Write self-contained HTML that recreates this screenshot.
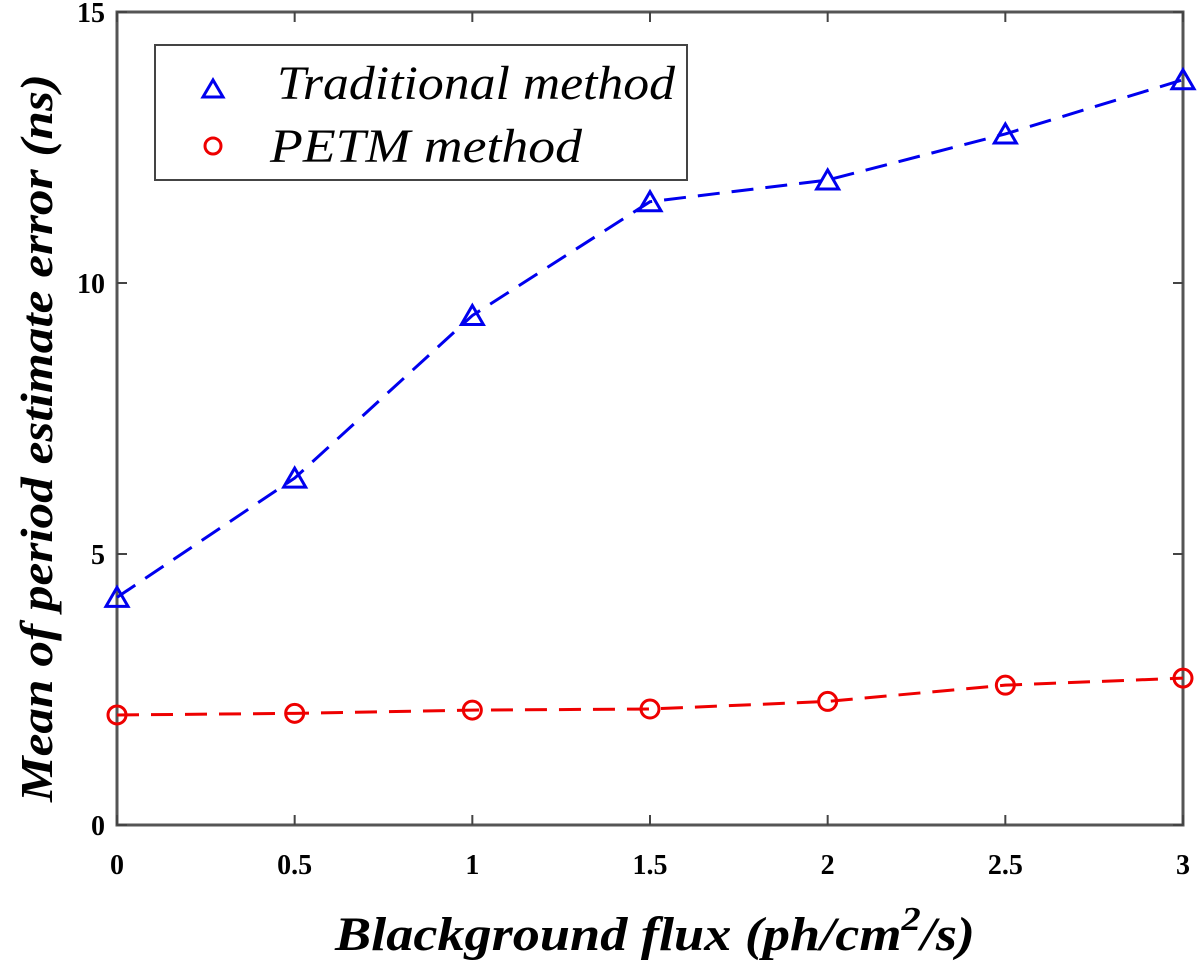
<!DOCTYPE html>
<html><head><meta charset="utf-8"><style>
html,body{margin:0;padding:0;background:#fff;}
svg{display:block;}
text{font-family:"Liberation Serif",serif;}
</style></head><body>
<svg id="chart" width="1200" height="963" viewBox="0 0 1200 963" xmlns="http://www.w3.org/2000/svg">
<rect x="117" y="12" width="1066" height="813" fill="#fff" stroke="#555" stroke-width="3"/>
<g id="ticks"></g>
<g id="series"></g>
<text x="335" y="950" font-size="48" font-weight="bold" font-style="italic" textLength="640" lengthAdjust="spacingAndGlyphs">Blackground flux (ph/cm<tspan dy="-20" font-size="34">2</tspan><tspan dy="20">/s)</tspan></text>
<text transform="translate(52,802) rotate(-90)" font-size="46" font-weight="bold" font-style="italic" textLength="728" lengthAdjust="spacingAndGlyphs">Mean of period estimate error (ns)</text>
<g>
<rect x="155" y="45" width="532" height="135" fill="#fff" stroke="#444" stroke-width="2"/>
<path d="M203,97 L213,80 L223,97 Z" fill="none" stroke="#0000ee" stroke-width="3"/>
<text x="277" y="99" font-size="48" font-style="italic" textLength="398" lengthAdjust="spacingAndGlyphs">Traditional method</text>
<circle cx="213" cy="146" r="8" fill="none" stroke="#ee0000" stroke-width="3"/>
<text x="270" y="162" font-size="48" font-style="italic" textLength="312" lengthAdjust="spacingAndGlyphs">PETM method</text>
</g>
</svg>
<script>
const xValues = [0, 0.5, 1, 1.5, 2, 2.5, 3];
const traditional = [4.2, 6.4, 9.4, 11.5, 11.9, 12.75, 13.75];
const petm = [2.03, 2.06, 2.12, 2.14, 2.28, 2.58, 2.71];
const xTickLabels = ["0", "0.5", "1", "1.5", "2", "2.5", "3"];
const yTicks = [0, 5, 10, 15];

const NS = "http://www.w3.org/2000/svg";
const X0 = 117, X1 = 1183, Y0 = 825, Y1 = 12;
function sx(v){ return X0 + (v - 0) / 3 * (X1 - X0); }
function sy(v){ return Y0 - v / 15 * (Y0 - Y1); }
function mk(tag, attrs, parent){
  const e = document.createElementNS(NS, tag);
  for (const k in attrs) e.setAttribute(k, attrs[k]);
  parent.appendChild(e);
  return e;
}
const tg = document.getElementById("ticks");
xValues.forEach((v, i) => {
  const x = sx(v);
  const t1 = mk("line", {x1:x, x2:x, y1:Y0, y2:Y0-10, stroke:"#444", "stroke-width":2}, tg);
  
  
  const t2 = mk("line", {x1:x, x2:x, y1:Y1, y2:Y1+10, stroke:"#444", "stroke-width":2}, tg);
  
  
  const lb = mk("text", {x:x, y:874, "text-anchor":"middle", "font-size":28, "font-weight":"bold"}, tg);
  lb.textContent = xTickLabels[i];
  
  
});
yTicks.forEach(v => {
  const y = sy(v);
  const t1 = mk("line", {x1:X0, x2:X0+10, y1:y, y2:y, stroke:"#444", "stroke-width":2}, tg);
  
  
  const t2 = mk("line", {x1:X1, x2:X1-10, y1:y, y2:y, stroke:"#444", "stroke-width":2}, tg);
  
  
  const lb = mk("text", {x:X0-12, y:y+10, "text-anchor":"end", "font-size":28, "font-weight":"bold"}, tg);
  lb.textContent = String(v);
  
  
});
const sg = document.getElementById("series");
function drawSeries(vals, color, name, marker){
  const pts = vals.map((v, i) => sx(xValues[i]) + "," + sy(v)).join(" ");
  const pl = mk("polyline", {points:pts, fill:"none", stroke:color, "stroke-width":3, "stroke-dasharray":"22,12"}, sg);
  
  
  vals.forEach((v, i) => {
    const x = sx(xValues[i]), y = sy(v);
    let m;
    if (marker === "tri") {
      m = mk("path", {d:`M${x-11},${y+9} L${x},${y-10} L${x+11},${y+9} Z`, fill:"none", stroke:color, "stroke-width":3}, sg);
    } else {
      m = mk("circle", {cx:x, cy:y, r:9, fill:"none", stroke:color, "stroke-width":3}, sg);
    }
    
    
  });
}
drawSeries(traditional, "#0000ee", "traditional", "tri");
drawSeries(petm, "#ee0000", "petm", "circle");
</script>
</body></html>
